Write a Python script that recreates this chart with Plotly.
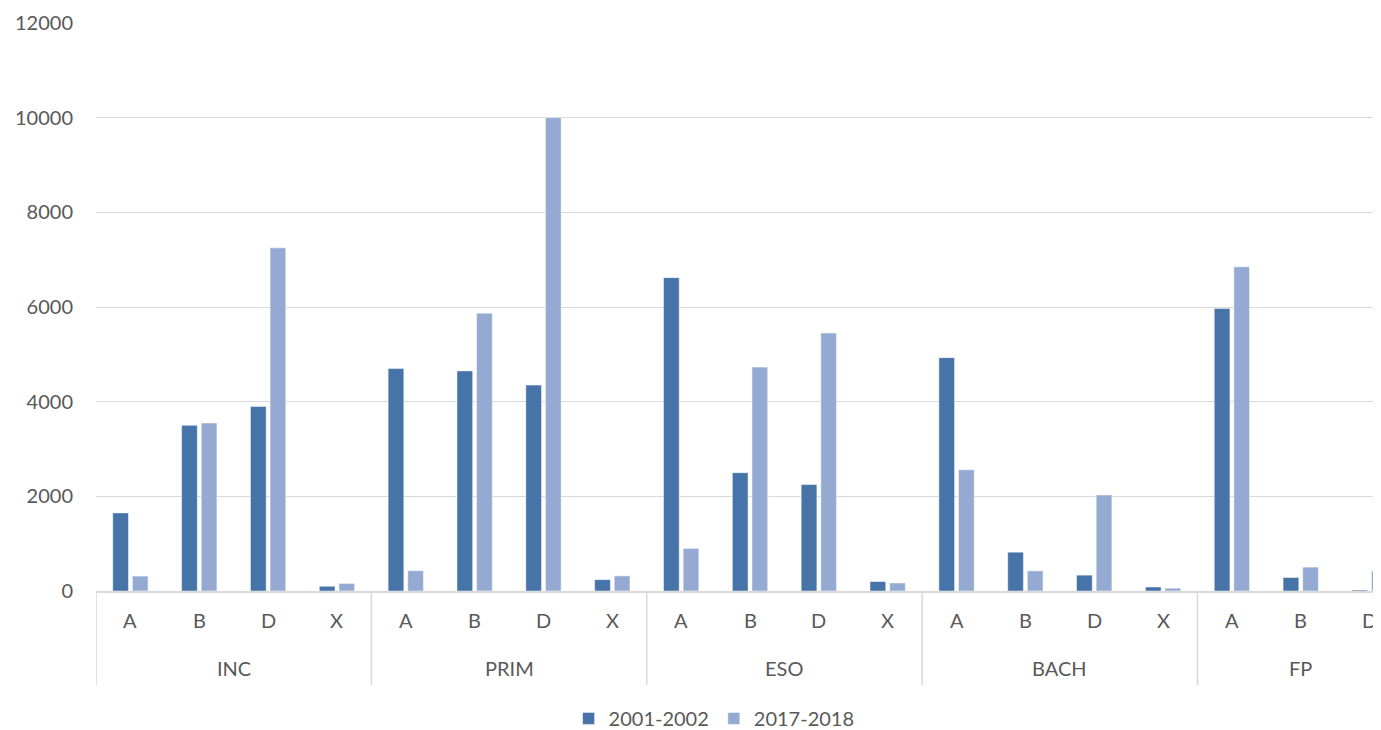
import plotly.graph_objects as go

groups = ["INC"] * 4 + ["PRIM"] * 4 + ["ESO"] * 4 + ["BACH"] * 4 + ["FP"] * 3
subcats = ["A", "B", "D", "X"] * 4 + ["A", "B", "D"]

series_names = ["2001-2002", "2017-2018"]
values_2001 = [1650, 3500, 3900, 100,
               4700, 4650, 4350, 240,
               6620, 2500, 2250, 200,
               4930, 820, 335, 85,
               5970, 285, 20]
values_2017 = [315, 3550, 7250, 160,
               430, 5870, 10000, 320,
               900, 4730, 5450, 170,
               2560, 425, 2030, 60,
               6850, 505, 420]

colors = ["#4673A8", "#95AAD2"]
yticks = [0, 2000, 4000, 6000, 8000, 10000, 12000]
text_color = "#595959"
font_family = "Lato, Open Sans, sans-serif"

keys = [f"{g}|{s}" for g, s in zip(groups, subcats)]

fig = go.Figure()
for name, vals, col in zip(series_names, [values_2001, values_2017], colors):
    fig.add_trace(go.Bar(
        x=keys, y=vals, name=name,
        marker=dict(color=col, line=dict(color="rgba(255,255,255,0.6)", width=0.8)),
    ))

n = len(keys)
plot_h = 568

# sub-category labels
for k, s in zip(keys, subcats):
    fig.add_annotation(x=k, y=-29 / plot_h, xref="x", yref="paper", text=s,
                       showarrow=False, yanchor="middle",
                       font=dict(size=20, color=text_color, family=font_family))

# group labels and dividers
unique_groups = []
for g in groups:
    if g not in unique_groups:
        unique_groups.append(g)
for g in unique_groups:
    idx = [i for i, gg in enumerate(groups) if gg == g]
    center = (idx[0] + idx[-1]) / 2
    fig.add_annotation(x=center, y=-77 / plot_h, xref="x", yref="paper", text=g,
                       showarrow=False, yanchor="middle",
                       font=dict(size=20, color=text_color, family=font_family))
    fig.add_shape(type="line", xref="x", yref="paper",
                  x0=idx[0] - 0.5, x1=idx[0] - 0.5, y0=0, y1=-94 / plot_h,
                  line=dict(color="#D9D9D9", width=1.5))

fig.update_layout(
    width=1373, height=730,
    margin=dict(l=88, r=0, t=15, b=147),
    paper_bgcolor="white", plot_bgcolor="white",
    barmode="group", bargap=0.43, bargroupgap=0.2,
    font=dict(family=font_family, size=20, color=text_color),
    legend=dict(orientation="h", x=0.481, xanchor="center", y=-0.190, yanchor="top",
                font=dict(size=20, color=text_color), itemwidth=30),
    showlegend=True,
)
fig.update_yaxes(range=[0, 12000], tickvals=yticks, tickformat="d", showgrid=True,
                 gridcolor="#D9D9D9", gridwidth=1, zeroline=False, showline=False,
                 ticks="outside", ticklen=18, tickcolor="rgba(0,0,0,0)", automargin=False,
                 tickfont=dict(size=20, color=text_color))
fig.update_xaxes(type="category", range=[-0.5, n - 0.5 - 23 / 68.8], showticklabels=False,
                 showline=True, linecolor="#D9D9D9", linewidth=1.5, ticks="",
                 automargin=False, showgrid=False)

fig.write_html("out.html")
